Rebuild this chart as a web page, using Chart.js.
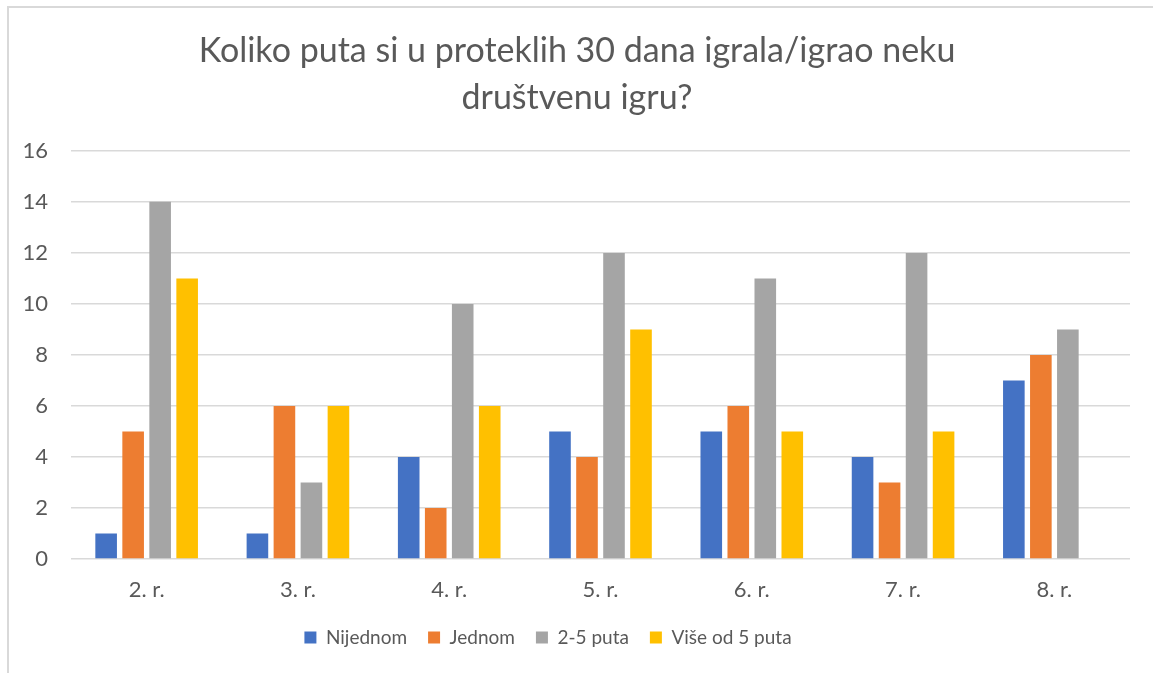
<!DOCTYPE html>
<html>
<head>
<meta charset="utf-8">
<script src="https://cdn.jsdelivr.net/npm/chart.js@4"></script>
<style>
  html, body { margin: 0; padding: 0; background: #fff; }
  #wrap { position: relative; width: 1153px; height: 673px; }
</style>
</head>
<body>
<div id="wrap"><canvas id="chart" width="1153" height="673"></canvas></div>
<script>
const titleLines = ["Koliko puta si u proteklih 30 dana igrala/igrao neku", "društvenu igru?"];
const grades = ["2. r.", "3. r.", "4. r.", "5. r.", "6. r.", "7. r.", "8. r."];
const nijednom = [1, 1, 4, 5, 5, 4, 7];
const jednom = [5, 6, 2, 4, 6, 3, 8];
const dvaDoPet = [14, 3, 10, 12, 11, 12, 9];
const viseOdPet = [11, 6, 6, 9, 5, 5, null];

const textColor = "#595959";
const gridColor = "#d9d9d9";
const fontFamily = "Lato, 'Open Sans', sans-serif";

// Excel style frame around the chart (cut off on the right and bottom)
const frame = {
  id: "frame",
  beforeDraw(chart) {
    const ctx = chart.ctx;
    ctx.save();
    ctx.fillStyle = "#fff";
    ctx.fillRect(0, 0, chart.width, chart.height);
    ctx.strokeStyle = "#d9d9d9";
    ctx.lineWidth = 2;
    ctx.strokeRect(8, 7, chart.width + 20, chart.height + 20);
    ctx.restore();
  },
  // nudge title and legend to where the original has them
  afterUpdate(chart) {
    const lg = chart.legend;
    if (lg) {
      lg.left -= 17;
      lg.right -= 17;
      lg.adjustHitBoxes();
    }
    const tb = chart.titleBlock;
    if (tb) {
      tb.left += 12;
      tb.right += 12;
    }
  },
};

const series = [
  { label: "Nijednom", data: nijednom, color: "#4472c4" },
  { label: "Jednom", data: jednom, color: "#ed7d31" },
  { label: "2-5 puta", data: dvaDoPet, color: "#a5a5a5" },
  { label: "Više od 5 puta", data: viseOdPet, color: "#ffc000" },
];

new Chart(document.getElementById("chart"), {
  type: "bar",
  data: {
    labels: grades,
    datasets: series.map((s) => ({
      label: s.label,
      data: s.data,
      backgroundColor: s.color,
      borderWidth: 0,
      categoryPercentage: 0.714,
      barPercentage: 0.8,
    })),
  },
  options: {
    responsive: false,
    animation: false,
    layout: { padding: { left: 0, right: 23, top: 0, bottom: 16 } },
    plugins: {
      title: {
        display: true,
        text: titleLines,
        color: textColor,
        font: { family: fontFamily, size: 34, weight: "normal", lineHeight: 1.38 },
        padding: { top: 28, bottom: 29 },
      },
      legend: {
        position: "bottom",
        labels: {
          color: textColor,
          font: { family: fontFamily, size: 19 },
          boxWidth: 12,
          boxHeight: 12,
          padding: 21,
        },
      },
      tooltip: { enabled: false },
    },
    scales: {
      x: {
        grid: { display: false, drawTicks: false },
        border: { display: false },
        ticks: { color: textColor, font: { family: fontFamily, size: 22 }, padding: 18 },
        afterFit(scale) { scale.height = 48; },
      },
      y: {
        min: 0,
        max: 16,
        grid: { color: gridColor, lineWidth: 1.5, drawTicks: false },
        border: { display: false },
        ticks: { stepSize: 2, color: textColor, font: { family: fontFamily, size: 22 }, padding: 23 },
        afterFit(scale) { scale.width = 71; },
      },
    },
  },
  plugins: [frame],
});
</script>
</body>
</html>
